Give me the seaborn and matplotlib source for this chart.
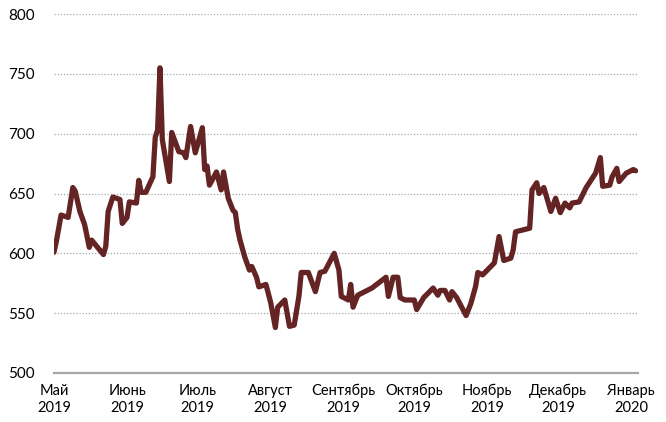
import matplotlib
matplotlib.use("Agg")
import matplotlib.pyplot as plt
import seaborn as sns
import pandas as pd

dates = [
    "2019-05-01", "2019-05-02", "2019-05-04", "2019-05-07", "2019-05-09", "2019-05-10",
    "2019-05-12", "2019-05-14", "2019-05-16", "2019-05-17", "2019-05-22", "2019-05-23",
    "2019-05-24", "2019-05-26", "2019-05-29", "2019-05-30", "2019-06-01", "2019-06-02",
    "2019-06-05", "2019-06-06", "2019-06-07", "2019-06-09", "2019-06-12", "2019-06-13",
    "2019-06-14", "2019-06-15", "2019-06-16", "2019-06-19", "2019-06-20", "2019-06-23",
    "2019-06-25", "2019-06-26", "2019-06-28", "2019-06-30", "2019-07-03", "2019-07-04",
    "2019-07-05", "2019-07-06", "2019-07-09", "2019-07-11", "2019-07-12", "2019-07-14",
    "2019-07-16", "2019-07-17", "2019-07-18", "2019-07-19", "2019-07-21", "2019-07-23",
    "2019-07-24", "2019-07-26", "2019-07-27", "2019-07-30", "2019-08-01", "2019-08-03",
    "2019-08-04", "2019-08-07", "2019-08-09", "2019-08-11", "2019-08-13", "2019-08-14",
    "2019-08-16", "2019-08-17", "2019-08-20", "2019-08-22", "2019-08-24", "2019-08-28",
    "2019-08-30", "2019-08-31", "2019-09-03", "2019-09-04", "2019-09-05", "2019-09-07",
    "2019-09-13", "2019-09-19", "2019-09-20", "2019-09-22", "2019-09-24", "2019-09-25",
    "2019-09-27", "2019-10-01", "2019-10-02", "2019-10-05", "2019-10-09", "2019-10-11",
    "2019-10-12", "2019-10-14", "2019-10-16", "2019-10-17", "2019-10-19", "2019-10-23",
    "2019-10-25", "2019-10-27", "2019-10-28", "2019-10-30", "2019-11-04", "2019-11-06",
    "2019-11-08", "2019-11-11", "2019-11-12", "2019-11-13", "2019-11-17", "2019-11-19",
    "2019-11-20", "2019-11-22", "2019-11-23", "2019-11-25", "2019-11-28", "2019-11-30",
    "2019-12-02", "2019-12-04", "2019-12-06", "2019-12-07", "2019-12-10", "2019-12-13",
    "2019-12-16", "2019-12-17", "2019-12-19", "2019-12-20", "2019-12-23", "2019-12-24",
    "2019-12-26", "2019-12-27", "2019-12-30", "2020-01-02", "2020-01-03",
]
values = [
    601, 610, 632, 630, 655, 652,
    635, 624, 605, 611, 599, 606,
    635, 647, 645, 625, 630, 643,
    642, 661, 651, 651, 664, 697,
    703, 755, 695, 660, 701, 685,
    684, 680, 706, 684, 705, 670,
    673, 657, 668, 653, 668, 646,
    636, 634, 620, 611, 597, 586,
    589, 580, 572, 574, 559, 538,
    555, 561, 539, 540, 564, 584,
    584, 584, 568, 584, 585, 600,
    586, 564, 561, 574, 555, 565,
    571, 580, 564, 580, 580, 563,
    561, 561, 553, 563, 571, 565,
    569, 569, 561, 568, 563, 548,
    558, 572, 584, 582, 592, 614,
    594, 596, 603, 618, 620, 621,
    653, 659, 650, 655, 635, 646,
    634, 642, 638, 642, 643, 655,
    664, 667, 680, 656, 657, 664,
    671, 660, 667, 670, 669,
]
month_ticks = ["2019-05-01", "2019-06-01", "2019-07-01", "2019-08-01", "2019-09-01",
               "2019-10-01", "2019-11-01", "2019-12-01", "2020-01-01"]
month_labels = ["Май\n2019", "Июнь\n2019", "Июль\n2019", "Август\n2019", "Сентябрь\n2019",
                "Октябрь\n2019", "Ноябрь\n2019", "Декабрь\n2019", "Январь\n2020"]
y_ticks = [500, 550, 600, 650, 700, 750, 800]

df = pd.DataFrame({"date": pd.to_datetime(dates), "value": values})

sns.set_style("white")
plt.rcParams["font.family"] = ["Lato", "DejaVu Sans"]

fig = plt.figure(figsize=(6.66, 4.22), dpi=100)
ax = fig.add_axes([54 / 666, 1 - 373 / 422, (638 - 54) / 666, (373 - 14) / 422])

sns.lineplot(data=df, x="date", y="value", ax=ax, color="#632423", lw=3.8,
             solid_joinstyle="round", solid_capstyle="round")

ax.set_xlim(pd.Timestamp("2019-05-01"), pd.Timestamp("2020-01-04"))
ax.set_ylim(500, 800)
ax.set_yticks(y_ticks)
ax.set_yticklabels([str(v) for v in y_ticks], fontsize=11, color="#000000")
ax.set_xticks(pd.to_datetime(month_ticks))
ax.set_xticklabels(month_labels, fontsize=10.5, color="#000000", linespacing=1.25)
ax.set_xlabel("")
ax.set_ylabel("")

for v in y_ticks[1:]:
    ax.axhline(v, color="#a6a6a6", lw=0.9, ls=(0, (1, 1.5)), zorder=0)

for s in ["top", "right", "left"]:
    ax.spines[s].set_visible(False)
ax.spines["bottom"].set_color("#a6a6a6")
ax.spines["bottom"].set_linewidth(1.6)
ax.tick_params(axis="x", direction="in", length=5, width=1.2, color="#a6a6a6", pad=8)
ax.tick_params(axis="y", length=0, pad=14)

fig.savefig("out.png", dpi=100)
